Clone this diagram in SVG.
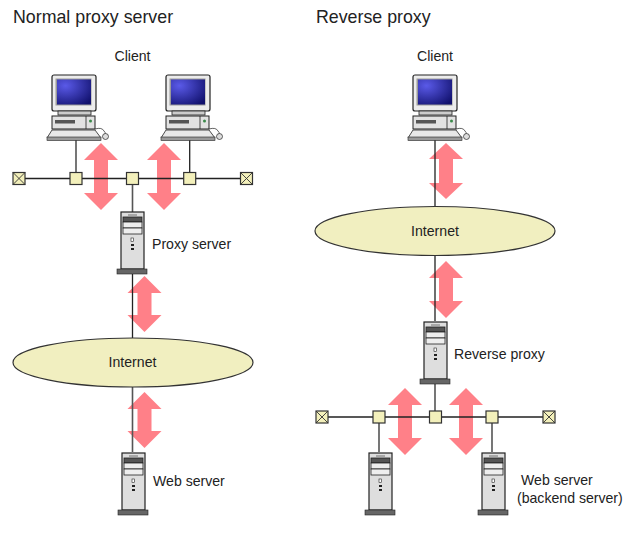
<svg xmlns="http://www.w3.org/2000/svg" width="633" height="534" viewBox="0 0 633 534">
<style>
text{font-family:"Liberation Sans",Arial,sans-serif;font-size:14.100px;fill:#222}
.h{font-size:17.800px}
.c{text-anchor:middle}
.w{stroke:#222;stroke-width:1.300;fill:none}
.g{stroke:#555;stroke-width:1.600;fill:none}
.a{fill:#ff8088}
.e{fill:#f1efc0;stroke:#333;stroke-width:1.200}
.j{fill:#f3f0bb;stroke:#333;stroke-width:1.200}
</style>
<defs>
<radialGradient id="scr" cx="0.250" cy="0.250" r="0.950"><stop offset="0" stop-color="#5a5ae8"/><stop offset="1" stop-color="#10106c"/></radialGradient>
<g id="pc">
<rect x="-24" y="0" width="44" height="36" rx="2" fill="#ececec" stroke="#222" stroke-width="1.200"/>
<rect x="-20.500" y="3.500" width="36" height="27" fill="#999"/>
<rect x="-19" y="4.500" width="34" height="25" fill="url(#scr)"/>
<rect x="-18" y="36" width="33" height="4" fill="#ccc" stroke="#222" stroke-width="0.800"/>
<rect x="-24" y="41" width="43" height="13" fill="#e2e2e2" stroke="#222" stroke-width="1"/>
<rect x="-21" y="45" width="20" height="3.500" fill="#555"/>
<line x1="10" y1="41" x2="10" y2="54" stroke="#222" stroke-width="0.800"/>
<circle cx="14.500" cy="46" r="1.500" fill="#3a8a4a"/>
<polygon points="-24,55 19,55 25,63 -29,63" fill="#e8e8e8" stroke="#222" stroke-width="0.800"/>
<rect x="-29" y="62" width="54" height="3.500" fill="#999" stroke="#222" stroke-width="0.600"/>
<path d="M19,54 Q26,52 28,56 Q30,58 29,59" fill="none" stroke="#222" stroke-width="0.700"/>
<ellipse cx="29.500" cy="61.500" rx="3" ry="3" fill="#ddd" stroke="#222" stroke-width="0.700"/>
</g>
<g id="srv">
<rect x="-11" y="1" width="23" height="57" fill="#dedede" stroke="#222" stroke-width="1.200"/>
<line x1="-4" y1="4" x2="5" y2="4" stroke="#555" stroke-width="0.800"/>
<rect x="-9" y="6" width="19" height="5" fill="#555" stroke="#222" stroke-width="0.800"/>
<rect x="-9" y="11" width="19" height="6" fill="#eee" stroke="#222" stroke-width="0.800"/>
<rect x="-9" y="17" width="19" height="6" fill="#eee" stroke="#222" stroke-width="0.800"/>
<rect x="-1" y="27" width="2.500" height="3.500" fill="#fff" stroke="#222" stroke-width="0.600"/>
<rect x="-1" y="33" width="3" height="2" fill="#222"/>
<rect x="-1" y="37" width="3" height="2" fill="#222"/>
<rect x="-15" y="58" width="30" height="5" fill="#666" stroke="#222" stroke-width="0.600"/>
</g>
<g id="jn"><rect x="-6" y="-6" width="12" height="12" class="j"/></g>
<g id="tm"><rect x="-6" y="-6" width="12" height="12" class="j"/><path d="M-6,-6 L6,6 M6,-6 L-6,6" stroke="#333" stroke-width="0.900" fill="none"/></g>
</defs>
<rect width="633" height="534" fill="#fff"/>

<text class="h" x="13" y="23">Normal proxy server</text>
<text class="h" x="316" y="23">Reverse proxy</text>

<g id="flow-arrows">
<polygon class="a" points="101,143 118,160 108,160 108,193 118,193 101,210 84,193 94,193 94,160 84,160"/>
<polygon class="a" points="164,143 181,160 171,160 171,193 181,193 164,210 147,193 157,193 157,160 147,160"/>
<polygon class="a" points="144.500,276 161.500,293 151.500,293 151.500,315 161.500,315 144.500,332 127.500,315 137.500,315 137.500,293 127.500,293"/>
<polygon class="a" points="144.500,392 161.500,409 151.500,409 151.500,431 161.500,431 144.500,448 127.500,431 137.500,431 137.500,409 127.500,409"/>
<polygon class="a" points="446,143 463,159 453,159 453,183 463,183 446,199 429,183 439,183 439,159 429,159"/>
<polygon class="a" points="446,261 463,278 453,278 453,301 463,301 446,318 429,301 439,301 439,278 429,278"/>
<polygon class="a" points="405,388 422,405 412,405 412,438 422,438 405,455 388,438 398,438 398,405 388,405"/>
<polygon class="a" points="466,388 483,405 473,405 473,438 483,438 466,455 449,438 459,438 459,405 449,405"/>
</g>

<g id="connectors">
<path class="w" d="M19,178.500H246.500M322,417H549"/>
<path class="g" d="M76,140V172M132.500,185V212M379,423V452M492,423V452M435,384V411M132.500,387V452"/>
<path class="w" d="M189.700,140V172M132.500,274V338M435,140V206M435,256V321"/>
</g>

<g id="net-left"><ellipse class="e" cx="133" cy="362.500" rx="120" ry="24.500"/><text class="c" x="132.500" y="367">Internet</text></g>
<g id="net-right"><ellipse class="e" cx="435" cy="231" rx="120" ry="24.500"/><text class="c" x="435" y="236">Internet</text></g>

<g id="client-left-1"><use href="#pc" x="76" y="75"/></g>
<g id="client-left-2"><use href="#pc" x="190" y="75"/></g>
<g id="client-right"><use href="#pc" x="437" y="75"/></g>
<g id="client-label-left"><text class="c" x="132.500" y="61">Client</text></g>
<g id="client-label-right"><text class="c" x="435" y="61">Client</text></g>

<g id="proxy-server"><use href="#srv" x="132" y="211"/><text x="152" y="249">Proxy server</text></g>
<g id="web-server"><use href="#srv" x="133" y="452"/><text x="153" y="486">Web server</text></g>
<g id="reverse-proxy"><use href="#srv" x="435" y="321"/><text x="454" y="359">Reverse proxy</text></g>
<g id="backend-1"><use href="#srv" x="380" y="452"/></g>
<g id="backend-2"><use href="#srv" x="493" y="452"/><text x="521" y="485">Web server</text><text x="517" y="503">(backend server)</text></g>

<g id="bus-left">
<use href="#tm" x="19" y="178.500"/><use href="#jn" x="76" y="178.500"/><use href="#jn" x="132.500" y="178.500"/><use href="#jn" x="189.700" y="178.500"/><use href="#tm" x="246.500" y="178.500"/>
</g>
<g id="bus-right">
<use href="#tm" x="322" y="417"/><use href="#jn" x="379" y="417"/><use href="#jn" x="435.500" y="417"/><use href="#jn" x="492" y="417"/><use href="#tm" x="549" y="417"/>
</g>
</svg>
